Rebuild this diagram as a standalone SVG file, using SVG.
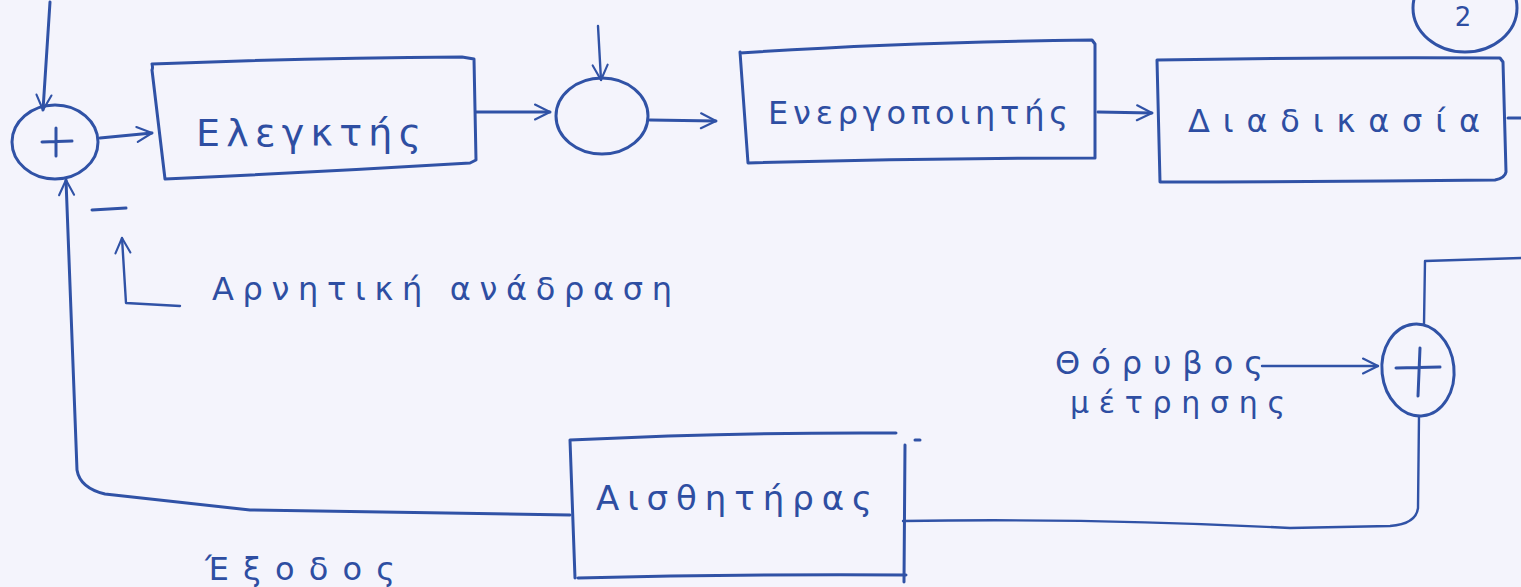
<svg xmlns="http://www.w3.org/2000/svg" width="1521" height="587" viewBox="0 0 1521 587">
  <style>
    .ink { fill: none; stroke: #3052a6; stroke-width: 3; stroke-linecap: round; stroke-linejoin: round; }
    .thin { stroke-width: 2.4; }
    .label { fill: #2e4ea2; font-family: "DejaVu Sans", "Liberation Sans", sans-serif; font-weight: normal; }
  </style>
  <defs>
    <marker id="chevL" viewBox="0 0 12 12" refX="11" refY="6" markerWidth="18" markerHeight="18" markerUnits="userSpaceOnUse" orient="auto">
      <path d="M1,1 L11,6 L1,11" fill="none" stroke="#3052a6" stroke-width="1.4" stroke-linecap="round" stroke-linejoin="round"/>
    </marker>
  </defs>

  <!-- paper -->
  <rect x="0" y="0" width="1521" height="587" fill="#f4f4fc"/>

  <!-- connectors -->
  <g id="connectors" class="ink">
    <path d="M50,2 L43,110" marker-end="url(#chevL)"/>
    <path d="M100,138 L152,133" marker-end="url(#chevL)"/>
    <path d="M476,112 L550,112" marker-end="url(#chevL)"/>
    <path d="M598,26 L601,80" class="thin" marker-end="url(#chevL)"/>
    <path d="M650,120 L716,121" marker-end="url(#chevL)"/>
    <path d="M1098,112 L1152,113" marker-end="url(#chevL)"/>
    <path d="M1508,118 L1521,118"/>
    <path d="M1521,258 L1425,261 L1424,324" class="thin"/>
    <path d="M1262,366 L1378,366" class="thin" marker-end="url(#chevL)"/>
    <path d="M1419,416 L1418,508 Q1416,524 1390,526 L1290,528 Q1100,518 903,521" class="thin"/>
    <path d="M570,515 L250,510 L105,494 Q80,488 77,470 L66,180" marker-end="url(#chevL)"/>
    <path d="M180,306 L126,303 L122,238" class="thin" marker-end="url(#chevL)"/>
  </g>

  <!-- summing junction with reference input and feedback -->
  <g id="sum1">
    <ellipse cx="55" cy="142" rx="43" ry="37" class="ink"/>
    <path d="M42,142 L72,141 M56,128 L56,156" class="ink"/>
    <path d="M92,210 L126,208" class="ink" stroke-width="5"/>
  </g>

  <g id="controller">
    <path d="M152,70 Q153,68 152,64 Q300,58 462,57 L474,59 L476,160 L470,163 Q320,172 165,179 L152,70" class="ink"/>
    <text x="196" y="146" class="label" font-size="38" textLength="225" lengthAdjust="spacing">Ελεγκτής</text>
  </g>

  <g id="sum2">
    <ellipse cx="602" cy="116" rx="46" ry="38" class="ink"/>
  </g>

  <g id="actuator">
    <path d="M740,53 Q900,42 1092,40 L1095,44 L1095,158 Q920,158 748,163 L740,52" class="ink"/>
    <text x="768" y="124" class="label" font-size="32" textLength="300" lengthAdjust="spacing">Ενεργοποιητής</text>
  </g>

  <g id="process">
    <path d="M1157,60 Q1330,57 1500,58 L1503,62 L1506,172 Q1505,178 1495,180 Q1330,182 1160,182 L1157,60" class="ink"/>
    <text x="1188" y="132" class="label" font-size="32" textLength="292" lengthAdjust="spacing">Διαδικασία</text>
  </g>

  <g id="page-number">
    <ellipse cx="1465" cy="8" rx="52" ry="44" class="ink"/>
    <text x="1463" y="26" class="label" font-size="26" text-anchor="middle">2</text>
  </g>

  <g id="noise-sum">
    <ellipse cx="1418" cy="370" rx="36" ry="46" transform="rotate(-6 1418 370)" class="ink"/>
    <path d="M1396,368 L1440,367 M1420,348 L1418,396" class="ink" stroke-width="2.4"/>
  </g>

  <g id="noise-label">
    <text x="1055" y="374" class="label" font-size="32" textLength="208" lengthAdjust="spacing">Θόρυβος</text>
    <text x="1070" y="413" class="label" font-size="30" textLength="215" lengthAdjust="spacing">μέτρησης</text>
  </g>

  <g id="sensor">
    <path d="M570,440 Q740,432 896,433 M905,445 L904,582 M578,578 Q740,574 906,575 M570,440 L575,578" class="ink"/>
    <path d="M915,440 L920,440" class="ink" stroke-width="2"/>
    <text x="596" y="510" class="label" font-size="34" textLength="276" lengthAdjust="spacing">Αισθητήρας</text>
  </g>

  <g id="feedback-label">
    <text x="212" y="300" class="label" font-size="32" textLength="460" lengthAdjust="spacing">Αρνητική ανάδραση</text>
  </g>

  <g id="output-label">
    <text x="205" y="580" class="label" font-size="32" textLength="190" lengthAdjust="spacing">Έξοδος</text>
  </g>
</svg>
